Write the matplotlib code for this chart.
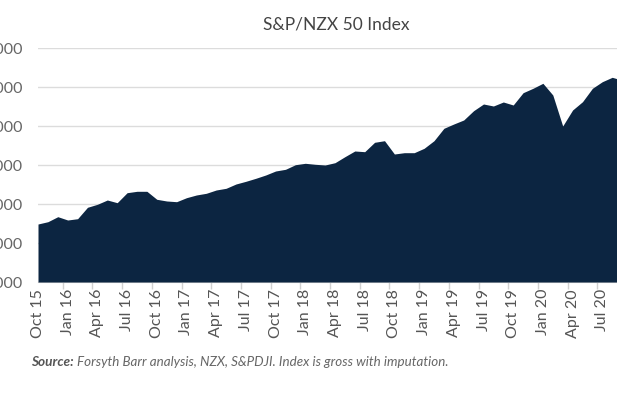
import matplotlib
matplotlib.use("Agg")
import matplotlib.pyplot as plt
import numpy as np

# monthly index values, Oct 2015 - Sep 2020
months = [
    "Oct 15", "Nov 15", "Dec 15", "Jan 16", "Feb 16", "Mar 16", "Apr 16", "May 16",
    "Jun 16", "Jul 16", "Aug 16", "Sep 16", "Oct 16", "Nov 16", "Dec 16", "Jan 17",
    "Feb 17", "Mar 17", "Apr 17", "May 17", "Jun 17", "Jul 17", "Aug 17", "Sep 17",
    "Oct 17", "Nov 17", "Dec 17", "Jan 18", "Feb 18", "Mar 18", "Apr 18", "May 18",
    "Jun 18", "Jul 18", "Aug 18", "Sep 18", "Oct 18", "Nov 18", "Dec 18", "Jan 19",
    "Feb 19", "Mar 19", "Apr 19", "May 19", "Jun 19", "Jul 19", "Aug 19", "Sep 19",
    "Oct 19", "Nov 19", "Dec 19", "Jan 20", "Feb 20", "Mar 20", "Apr 20", "May 20",
    "Jun 20", "Jul 20", "Aug 20", "Sep 20",
]
index_values = [
    4974, 5092, 5349, 5179, 5246, 5831, 5985, 6205,
    6067, 6579, 6651, 6651, 6241, 6154, 6118, 6323,
    6462, 6549, 6718, 6805, 7026, 7164, 7318, 7487,
    7692, 7779, 8015, 8087, 8036, 8000, 8118, 8426,
    8718, 8682, 9164, 9246, 8564, 8631, 8631, 8856,
    9246, 9882, 10103, 10308, 10785, 11128, 11026, 11231,
    11077, 11708, 11933, 12190, 11590, 10000, 10821, 11246,
    11933, 12272, 12497, 12350,
]
y_ticks = [2000, 4000, 6000, 8000, 10000, 12000, 14000]

navy = "#0c2541"
plt.rcParams["font.family"] = ["Lato", "DejaVu Sans"]

fig = plt.figure(figsize=(6.17, 4.08), dpi=100)
ax = fig.add_axes([38 / 617, 126 / 408, 594 / 617, 234 / 408])

x = np.arange(len(months))
ax.fill_between(x, y_ticks[0], index_values, color=navy, linewidth=0, zorder=3)

ax.set_xlim(0, 60)
ax.set_ylim(y_ticks[0], y_ticks[-1])

# y labels run off the left edge, as in the original crop
ax.set_yticks(y_ticks)
ax.set_yticklabels([f"{v:,}" for v in y_ticks], fontsize=11.5, color="#666666")
ax.yaxis.grid(True, color="#dcdcdc", linewidth=1.0, zorder=0)
ax.tick_params(axis="y", length=0, pad=11)

ax.set_xticks(x[::3])
ax.set_xticklabels(months[::3], rotation=90, fontsize=11.5, color="#555555")
ax.set_xticks(x[::3] + 2.5, minor=True)
ax.tick_params(axis="x", which="major", length=0, pad=5)
ax.tick_params(axis="x", which="minor", length=5, color="#d0d0d0", width=1)

for side in ["top", "right", "left"]:
    ax.spines[side].set_visible(False)
ax.spines["bottom"].set_color("#d0d0d0")
ax.set_axisbelow(True)

fig.text(336 / 617, 1 - 25 / 408, "S&P/NZX 50 Index", ha="center", va="center",
         fontsize=12.5, color="#444444")

src = fig.text(31 / 617, 1 - 362 / 408, "Source:", ha="left", va="center",
               fontsize=9.8, color="#555555", style="italic", weight="bold")
fig.canvas.draw()
bb = src.get_window_extent()
fig.text(bb.x1 / fig.bbox.width + 3 / 617, 1 - 362 / 408,
         "Forsyth Barr analysis, NZX, S&PDJI. Index is gross with imputation.",
         ha="left", va="center", fontsize=9.6, color="#666666", style="italic")

fig.savefig("out.png", dpi=100)
